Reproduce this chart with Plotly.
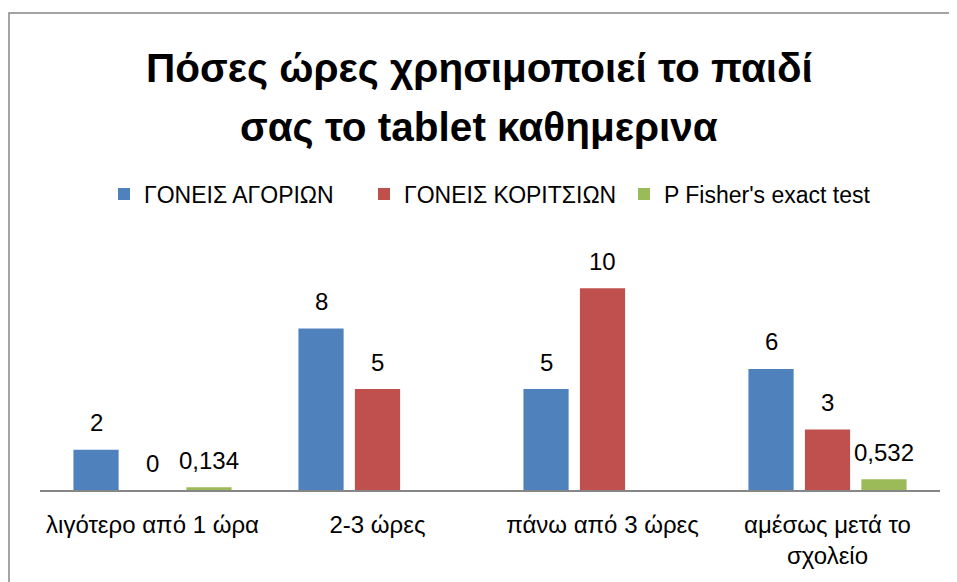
import plotly.graph_objects as go

categories = ["λιγότερο από 1 ώρα", "2-3 ώρες", "πάνω από 3 ώρες", "αμέσως μετά το<br>σχολείο"]
series_names = ["ΓΟΝΕΙΣ ΑΓΟΡΙΩΝ", "ΓΟΝΕΙΣ ΚΟΡΙΤΣΙΩΝ", "P Fisher's exact test"]
boys = [2, 8, 5, 6]
girls = [0, 5, 10, 3]
fisher = [0.134, None, None, 0.532]
colors = ["#4F81BD", "#C0504D", "#9BBB59"]
title_lines = ["Πόσες ώρες χρησιμοποιεί το παιδί", "σας το tablet καθημερινα"]

FONT = "Liberation Sans"
OFF = 8  # default page body margin
W, H = 957 - OFF, 582 - OFF
ml, mr, mt, mb = 40 - OFF, 17, 268 - OFF, 92
plot_w = W - ml - mr
plot_h = H - mt - mb
cat_w = plot_w / len(categories)
bargap = 0.247
slot = cat_w * (1 - bargap) / 3


def page_to_paper_y(py):
    return (H - mb - (py - OFF)) / plot_h


def page_to_paper_x(px):
    return (px - OFF - ml) / plot_w


fig = go.Figure()
all_series = [boys, girls, fisher]
for name, vals, col in zip(series_names, all_series, colors):
    fig.add_trace(go.Bar(x=categories, y=vals, name=name, marker_color=col,
                         marker_line_width=0))

annotations = []
for si, vals in enumerate(all_series):
    for ci, v in enumerate(vals):
        if v is None:
            continue
        annotations.append(dict(
            x=categories[ci], y=v, xref="x", yref="y",
            text=(f"{v:g}".replace(".", ",")),
            showarrow=False, xshift=(si - 1) * slot, yshift=27, yanchor="middle",
            font=dict(family=FONT, size=24, color="#000000")))

for line, py in zip(title_lines, [68, 127]):
    annotations.append(dict(
        x=page_to_paper_x(479), y=page_to_paper_y(py), xref="paper", yref="paper",
        text="<b>" + line + "</b>", showarrow=False, xanchor="center", yanchor="middle",
        font=dict(family=FONT, size=40.5, color="#000000")))

fig.add_shape(type="rect", xref="paper", yref="paper",
              x0=page_to_paper_x(9), x1=1.2,
              y0=-1.0, y1=page_to_paper_y(13),
              line=dict(color="#868686", width=1.5), fillcolor="rgba(0,0,0,0)", layer="below")

fig.update_layout(
    width=W, height=H,
    margin=dict(l=ml, r=mr, t=mt, b=mb),
    paper_bgcolor="white", plot_bgcolor="white",
    barmode="group", bargap=bargap, bargroupgap=0.2,
    separators=",.",
    font=dict(family=FONT, size=24, color="#000000"),
    legend=dict(orientation="h", x=page_to_paper_x(104), xanchor="left", y=1 - (194 - OFF) / H,
                yanchor="middle", yref="container", font=dict(family=FONT, size=23),
                itemwidth=30, entrywidth=215, traceorder="normal"),
    annotations=annotations,
    xaxis=dict(showline=True, linecolor="#868686", linewidth=1.5, ticks="",
               tickfont=dict(family=FONT, size=24), showgrid=False, ticklabelstandoff=12),
    yaxis=dict(range=[0, 11], visible=False, showgrid=False, zeroline=False),
)

fig.write_html("out.html")
